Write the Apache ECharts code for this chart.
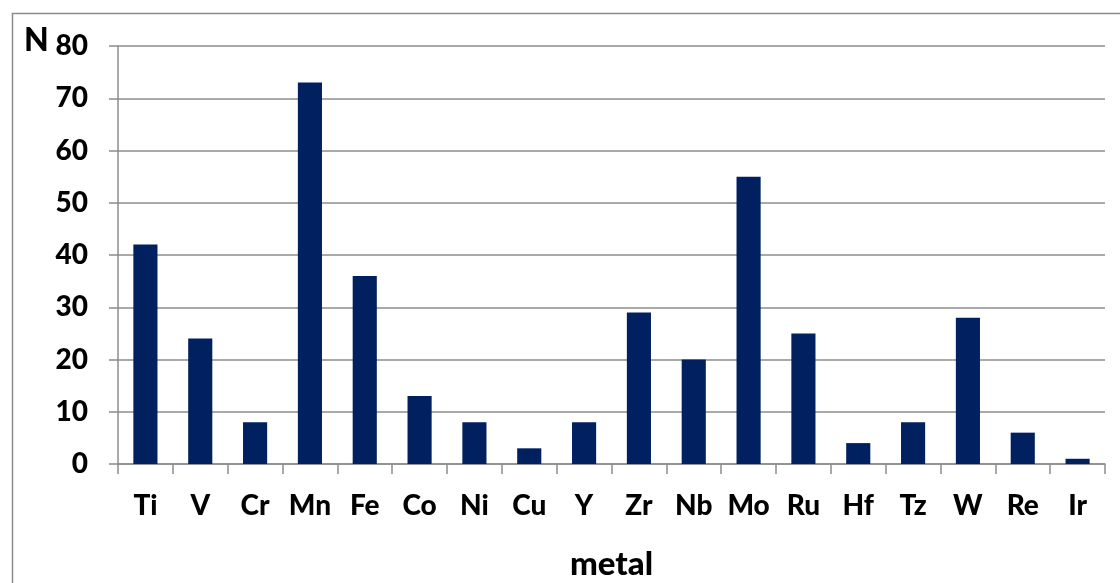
<!DOCTYPE html>
<html>
<head>
<meta charset="utf-8">
<script src="https://cdn.jsdelivr.net/npm/echarts@6/dist/echarts.min.js"></script>
<style>html,body{margin:0;padding:0;background:#fff}#c{width:1120px;height:583px}</style>
</head>
<body>
<div id="c"></div>
<script>
const categories = ['Ti','V','Cr','Mn','Fe','Co','Ni','Cu','Y','Zr','Nb','Mo','Ru','Hf','Tz','W','Re','Ir'];
const values = [42,24,8,73,36,13,8,3,8,29,20,55,25,4,8,28,6,1];
const yTicks = {min:0, max:80, interval:10};
const xName = 'metal';
const yName = 'N';

const chart = echarts.init(document.getElementById('c'), null, {renderer:'canvas'});
const FONT = 'Lato';
chart.setOption({
  animation:false,
  backgroundColor:'#fff',
  title:{text:yName,left:19,top:20,textStyle:{fontFamily:FONT,fontWeight:900,fontSize:32,color:'#000'}},
  graphic:[{type:'rect',shape:{x:12.5,y:13.5,width:1120,height:600},style:{fill:'none',stroke:'#8c8c8c',lineWidth:1.5},silent:true,z:-1}],
  grid:{left:118,right:15,top:46,bottom:119,containLabel:false,outerBoundsMode:'none'},
  xAxis:{type:'category',data:categories,
    name:xName,nameLocation:'middle',nameGap:84,
    nameTextStyle:{fontFamily:FONT,fontWeight:900,fontSize:33,color:'#000'},
    axisLine:{lineStyle:{color:'#8c8c8c',width:1.5}},
    axisTick:{show:true,length:10,lineStyle:{color:'#8c8c8c',width:1.5}},
    axisLabel:{fontFamily:FONT,fontWeight:900,fontSize:28,color:'#000',margin:28,interval:0}},
  yAxis:{type:'value',min:yTicks.min,max:yTicks.max,interval:yTicks.interval,
    axisLine:{show:true,lineStyle:{color:'#8c8c8c',width:1.5}},
    axisTick:{show:true,length:9,lineStyle:{color:'#8c8c8c',width:1.5}},
    splitLine:{show:true,lineStyle:{color:'#8c8c8c',width:1.5}},
    axisLabel:{fontFamily:FONT,fontWeight:900,fontSize:28,color:'#000',margin:30}},
  series:[{type:'bar',data:values,barWidth:'44%',itemStyle:{color:'#002060'}}]
});
</script>
</body>
</html>
